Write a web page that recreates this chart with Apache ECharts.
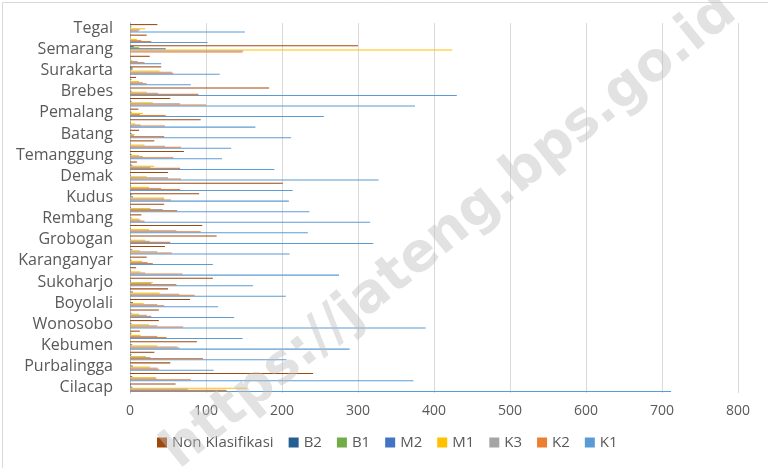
<!DOCTYPE html>
<html>
<head>
<meta charset="utf-8">
<script src="https://cdn.jsdelivr.net/npm/echarts@6/dist/echarts.min.js"></script>
<style>
  html, body { margin: 0; padding: 0; background: #fff; }
  #eCharts { width: 768px; height: 468px; }
</style>
</head>
<body>
<div id="eCharts"></div>
<script>
// kabupaten/kota, dari bawah (Cilacap) ke atas (Kota Tegal)
var kategori = ['Cilacap', 'Banyumas', 'Purbalingga', 'Banjarnegara', 'Kebumen', 'Purworejo', 'Wonosobo',
    'Kab. Magelang', 'Boyolali', 'Klaten', 'Sukoharjo', 'Wonogiri', 'Karanganyar', 'Sragen', 'Grobogan',
    'Blora', 'Rembang', 'Pati', 'Kudus', 'Jepara', 'Demak', 'Kab. Semarang', 'Temanggung', 'Kendal',
    'Batang', 'Kab. Pekalongan', 'Pemalang', 'Kab. Tegal', 'Brebes', 'Kota Magelang', 'Surakarta',
    'Salatiga', 'Semarang', 'Kota Pekalongan', 'Tegal'];

var nonKlasifikasi = [60, 241, 53, 32, 88, 13, 38, 38, 79, 50, 109, 8, 22, 46, 114, 95, 15, 45, 91, 201,
    50, 9, 71, 32, 12, 93, 11, 53, 183, 8, 41, 26, 300, 22, 36];
var b2 = [1, 0, 0, 0, 0, 0, 0, 0, 0, 0, 0, 0, 0, 0, 0, 0, 0, 0, 2, 0, 0, 0, 0, 0, 0, 0, 0, 0, 0, 0, 3, 0, 5, 0, 0];
var b1 = [0, 0, 0, 2, 0, 2, 0, 0, 0, 0, 1, 0, 0, 0, 0, 0, 0, 0, 0, 1, 0, 1, 0, 0, 0, 0, 0, 1, 0, 2, 4, 1, 12, 1, 2];
var m2 = [3, 3, 4, 1, 3, 1, 2, 2, 4, 4, 1, 1, 2, 3, 1, 1, 2, 1, 4, 1, 1, 3, 2, 1, 2, 1, 2, 2, 2, 0, 2, 0, 47, 0, 0];
var m1 = [154, 34, 26, 21, 36, 14, 25, 12, 18, 39, 30, 14, 16, 13, 20, 25, 12, 27, 45, 25, 22, 32, 12, 19,
    6, 7, 17, 30, 22, 12, 39, 3, 424, 9, 20];
var k3 = [76, 35, 36, 27, 62, 36, 36, 22, 36, 65, 28, 20, 23, 36, 26, 61, 14, 43, 45, 41, 50, 27, 17, 46,
    5, 14, 13, 66, 37, 17, 55, 10, 149, 15, 13];
var k2 = [127, 80, 38, 96, 65, 48, 70, 28, 45, 85, 61, 69, 30, 55, 53, 93, 19, 62, 54, 66, 67, 66, 57, 67,
    45, 46, 47, 100, 90, 22, 57, 19, 148, 28, 11];
var k1 = [712, 373, 110, 206, 289, 148, 389, 137, 116, 205, 162, 275, 109, 210, 320, 234, 316, 236, 209, 214,
    327, 190, 121, 133, 212, 165, 255, 375, 430, 80, 118, 41, 0, 102, 151];

var namaSeri = ['Non Klasifikasi', 'B2', 'B1', 'M2', 'M1', 'K3', 'K2', 'K1'];
var dataSeri = [nonKlasifikasi, b2, b1, m2, m1, k3, k2, k1];
var warna = ['#9E480E', '#255E91', '#70AD47', '#4472C4', '#FFC000', '#A5A5A5', '#ED7D31', '#5B9BD5'];

var myChart = echarts.init(document.getElementById('eCharts'));

var series = [];
for (var i = 0; i < namaSeri.length; i++) {
    series.push({
        name: namaSeri[i],
        type: 'bar',
        data: dataSeri[i],
        barGap: '0%',
        barCategoryGap: '20%',
        itemStyle: {color: warna[i]}
    });
}

var option = {
    animation: false,
    textStyle: {fontFamily: 'Open Sans'},
    color: warna,
    legend: {
        data: namaSeri,
        bottom: 13,
        left: 152,
        itemWidth: 10,
        itemHeight: 10,
        itemGap: 15,
        icon: 'rect',
        textStyle: {color: '#595959', fontSize: 15}
    },
    grid: {
        left: 130,
        right: 30,
        top: 23,
        bottom: 75
    },
    xAxis: {
        type: 'value',
        min: 0,
        max: 800,
        interval: 100,
        axisLine: {show: false},
        axisTick: {show: false},
        axisLabel: {color: '#595959', fontSize: 14, margin: 11},
        splitLine: {lineStyle: {color: '#d9d9d9', width: 1}}
    },
    yAxis: {
        type: 'category',
        data: kategori,
        axisLine: {lineStyle: {color: '#bfbfbf'}},
        axisTick: {show: false},
        axisLabel: {interval: 1, color: '#595959', fontSize: 16, margin: 17}
    },
    graphic: [
        {
            type: 'rect',
            left: 0, top: 0,
            shape: {width: 767, height: 467},
            style: {fill: 'none', stroke: '#d9d9d9', lineWidth: 1},
            silent: true
        },
        {
            type: 'text',
            x: 450, y: 232,
            rotation: 39 * Math.PI / 180,
            z: 100,
            silent: true,
            style: {
                text: 'https://jateng.bps.go.id',
                font: 'bold 54px "DejaVu Sans"',
                fill: 'rgba(190,190,190,0.45)',
                textAlign: 'center',
                textVerticalAlign: 'middle'
            }
        }
    ],
    series: series
};
myChart.setOption(option);
</script>
</body>
</html>
